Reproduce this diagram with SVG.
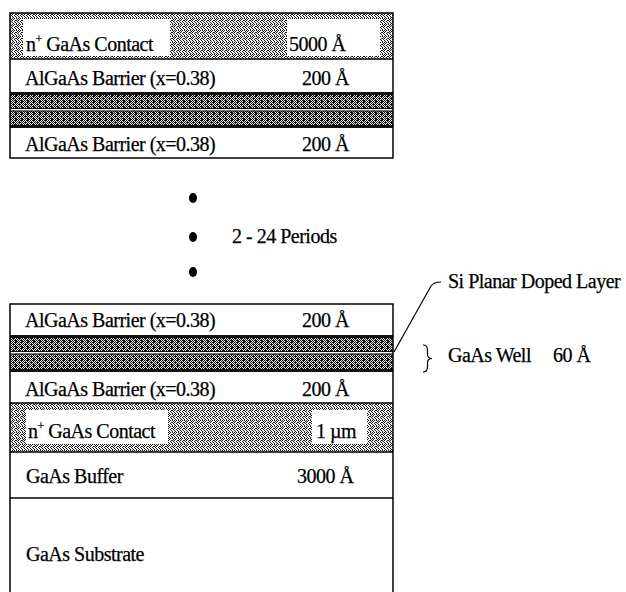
<svg xmlns="http://www.w3.org/2000/svg" width="626" height="592" viewBox="0 0 626 592">
<defs>
<pattern id="pg" width="6" height="6" patternUnits="userSpaceOnUse">
<rect width="6" height="6" fill="#f2f2f2"/>
<path fill="#1a1a1a" d="M0,0h1v1h-1zM2,0h1v1h-1zM4,0h1v1h-1zM1,1h1v1h-1zM5,1h1v1h-1zM0,2h1v1h-1zM3,2h1v1h-1zM4,2h1v1h-1zM2,3h1v1h-1zM5,3h1v1h-1zM0,4h1v1h-1zM3,4h1v1h-1zM1,5h1v1h-1zM4,5h1v1h-1z"/>
</pattern>
<pattern id="pw" width="6" height="6" patternUnits="userSpaceOnUse">
<rect width="6" height="6" fill="#e8e8e8"/>
<path fill="#111" d="M0,0h1v1h-1zM2,0h3v1h-3zM1,1h1v1h-1zM3,1h1v1h-1zM5,1h1v1h-1zM0,2h3v1h-3zM4,2h1v1h-1zM1,3h1v1h-1zM3,3h1v1h-1zM5,3h1v1h-1zM0,4h1v1h-1zM2,4h3v1h-3zM1,5h1v1h-1zM3,5h3v1h-3z"/>
</pattern>
</defs>
<style>
text{font-family:"Liberation Serif","Times New Roman",serif;font-size:20px;fill:#000;stroke:#000;stroke-width:0.25;letter-spacing:-0.5px}
.sup{font-size:12px}
.ln{stroke:#000;stroke-width:1.5;fill:none}
.thin{stroke:#000;stroke-width:1.2;fill:none}
.wb{fill:#fff}
.contact{fill:url(#pg)}
.well{fill:url(#pw)}
.wline{fill:#111}
.hl{fill:#f4f4f4}
</style>
<rect width="626" height="592" fill="#fff"/>

<g id="top-stack">
<g id="top-contact">
<rect class="contact" x="10" y="13" width="383" height="46"/>
<rect class="wb" x="23" y="19" width="147" height="37"/>
<rect class="wb" x="287" y="19" width="93" height="37"/>
<text x="26" y="51">n<tspan class="sup" dy="-8">+</tspan><tspan dy="8"> GaAs Contact</tspan></text>
<text x="289" y="51">5000 Å</text>
</g>
<g id="top-barrier-1">
<rect class="wb" x="10" y="59" width="383" height="33"/>
<text x="25" y="85">AlGaAs Barrier (x=0.38)</text>
<text x="302" y="85">200 Å</text>
</g>
<g id="top-well">
<rect class="well" x="10" y="92" width="383" height="36"/>
<rect class="wline" x="10" y="92" width="383" height="3"/>
<rect class="wline" x="10" y="108" width="383" height="1"/>
<rect class="hl" x="10" y="109" width="383" height="1.6"/>
<rect class="wline" x="10" y="110.6" width="383" height="1"/>
<rect class="wline" x="10" y="125" width="383" height="3"/>
</g>
<g id="top-barrier-2">
<rect class="wb" x="10" y="128" width="383" height="30"/>
<text x="25" y="151">AlGaAs Barrier (x=0.38)</text>
<text x="302" y="151">200 Å</text>
</g>
<rect class="ln" x="10" y="13" width="383" height="145"/>
<line class="ln" x1="10" y1="59" x2="393" y2="59"/>
</g>

<g id="periods">
<ellipse cx="193" cy="198" rx="4" ry="5"/>
<ellipse cx="193" cy="237" rx="4" ry="5"/>
<ellipse cx="193" cy="272" rx="4" ry="5"/>
<text x="232" y="243">2 - 24 Periods</text>
</g>

<g id="bottom-stack">
<g id="bot-barrier-1">
<rect class="wb" x="10" y="304" width="383" height="31"/>
<text x="25" y="327">AlGaAs Barrier (x=0.38)</text>
<text x="302" y="327">200 Å</text>
</g>
<g id="bot-well">
<rect class="well" x="10" y="335" width="383" height="37"/>
<rect class="wline" x="10" y="335" width="383" height="3"/>
<rect class="wline" x="10" y="351" width="383" height="1"/>
<rect class="hl" x="10" y="352" width="383" height="1.6"/>
<rect class="wline" x="10" y="353.6" width="383" height="1"/>
<rect class="wline" x="10" y="369" width="383" height="3"/>
</g>
<g id="bot-barrier-2">
<rect class="wb" x="10" y="372" width="383" height="31"/>
<text x="25" y="396">AlGaAs Barrier (x=0.38)</text>
<text x="302" y="396">200 Å</text>
</g>
<g id="bot-contact">
<rect class="contact" x="10" y="403" width="383" height="49"/>
<rect class="wb" x="26" y="410" width="142" height="34"/>
<rect class="wb" x="312" y="410" width="55" height="34"/>
<text x="28" y="438">n<tspan class="sup" dy="-8">+</tspan><tspan dy="8"> GaAs Contact</tspan></text>
<text x="316" y="438">1 µm</text>
</g>
<g id="bot-buffer">
<rect class="wb" x="10" y="452" width="383" height="46"/>
<text x="26" y="483">GaAs Buffer</text>
<text x="297" y="483">3000 Å</text>
</g>
<g id="bot-substrate">
<rect class="wb" x="10" y="498" width="383" height="94"/>
<text x="26" y="561">GaAs Substrate</text>
</g>
<path class="ln" d="M10,592 V304 H393 V592"/>
<line class="ln" x1="10" y1="403" x2="393" y2="403"/>
<line class="ln" x1="10" y1="452" x2="393" y2="452"/>
<line class="ln" x1="10" y1="498" x2="393" y2="498"/>
</g>

<g id="connectors">
<path class="thin" d="M394,352 L431,286 Q434,282 441,282"/>
</g>

<g id="annotations">
<text x="448" y="288">Si Planar Doped Layer</text>
<path class="thin" d="M423,345 Q427.5,345 427.5,350 L427.5,354 Q427.5,358.5 432,358.5 Q427.5,358.5 427.5,363 L427.5,367 Q427.5,372 423,372"/>
<text x="448" y="362">GaAs Well</text>
<text x="553" y="362">60 Å</text>
</g>
</svg>
